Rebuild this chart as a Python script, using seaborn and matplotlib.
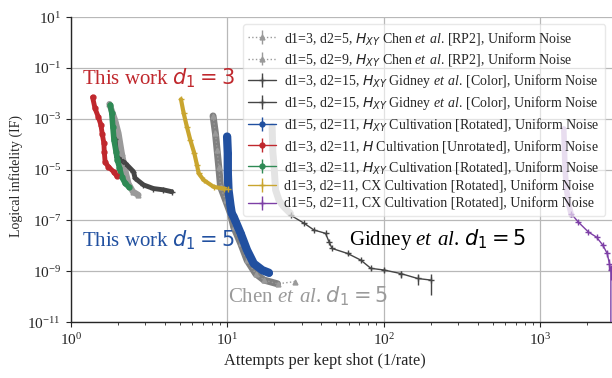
import numpy as np
import pandas as pd
import matplotlib
matplotlib.use("Agg")
import matplotlib.pyplot as plt
import seaborn as sns

# ---- data: attempts per kept shot (x) vs logical infidelity (y) ----
chen3_x = [1.77, 1.92, 2.02, 2.12, 2.23, 2.34, 2.50, 2.71]
chen3_y = [3.8e-3, 8.9e-4, 2.7e-4, 4.4e-5, 9.5e-6, 2.8e-6, 1.35e-6, 1.0e-6]

chen5_x = [8.13, 8.42, 8.63, 8.84, 9.08, 9.77, 10.5, 11.0, 12.2, 13.4, 15.2, 17.2, 21.0, 27.0]
chen5_y = [1.3e-3, 2.7e-4, 5.9e-5, 1.3e-5, 2.1e-6, 6.3e-7, 1.9e-7, 5.6e-8,
           1.26e-8, 2.75e-9, 8.1e-10, 4.5e-10, 3.2e-10, 3.9e-10]

gid3_x = [1.92, 1.97, 2.23, 2.52, 2.58, 2.92, 3.38, 3.92, 4.43]
gid3_y = [1.6e-4, 3.2e-5, 1.8e-5, 8.3e-6, 4.6e-6, 2.5e-6, 1.8e-6, 1.6e-6, 1.35e-6]

# dense head of the d1=5 colour-code run, then the sparse tail
gid5_head_x = [19.4, 19.6, 19.9, 20.4, 21.5, 23.0, 25.4]
gid5_head_y = [4.9e-4, 5.0e-5, 1.8e-5, 1.6e-6, 6.0e-7, 3.5e-7, 1.9e-7]
gid5_x = [25.5, 31.0, 35.9, 42.6, 44.8, 46.9, 58.9, 71.5, 83.0, 100.6, 129.0, 165.0, 200.0]
gid5_y = [1.6e-7, 7.8e-8, 4.2e-8, 3.1e-8, 1.45e-8, 7.9e-9, 5.0e-9, 2.75e-9,
          1.3e-9, 1.12e-9, 8.1e-10, 5.2e-10, 4.5e-10]
gid5_err = [0.05, 0.05, 0.06, 0.06, 0.08, 0.08, 0.10, 0.12, 0.15, 0.18, 0.30, 0.45, 0.75]

blue5_x = [10.0, 10.1, 10.1, 10.2, 10.5, 10.7, 11.0, 12.2, 13.4, 14.8, 16.8, 18.5]
blue5_y = [2.0e-4, 4.4e-5, 7.1e-6, 1.6e-6, 4.0e-7, 1.9e-7, 1.4e-7, 3.1e-8,
           6.8e-9, 2.0e-9, 1.1e-9, 8.7e-10]

red3_x = [1.38, 1.43, 1.50, 1.56, 1.59, 1.63, 1.64, 1.66, 1.74, 1.88, 1.97]
red3_y = [7.1e-3, 2.6e-3, 1.2e-3, 5.8e-4, 2.6e-4, 1.1e-4, 5.0e-5, 2.0e-5,
          1.3e-5, 8.3e-6, 5.6e-6]

green3_x = [1.79, 1.83, 1.86, 1.89, 1.95, 1.99, 2.05, 2.12, 2.23, 2.37]
green3_y = [3.5e-3, 1.7e-3, 4.9e-4, 1.5e-4, 5.0e-5, 2.4e-5, 1.2e-5, 5.2e-6, 2.9e-6, 2.0e-6]

cx3_x = [5.07, 5.27, 5.53, 5.81, 6.17, 6.42, 6.58, 7.07, 8.20, 9.50, 10.2]
cx3_y = [5.9e-3, 1.7e-3, 4.9e-4, 1.5e-4, 4.4e-5, 1.5e-5, 7.1e-6, 3.9e-6,
         2.1e-6, 1.8e-6, 1.66e-6]

cx5_head_x = [1420, 1430, 1440, 1455, 1480, 1530, 1590]
cx5_head_y = [4.0e-4, 1.0e-4, 2.5e-5, 6.3e-6, 1.6e-6, 4.0e-7, 1.6e-7]
# the last sample has zero observed failures, so it sits below the axis
cx5_x = [1590, 1755, 2040, 2300, 2520, 2690, 2780, 2840, 2840]
cx5_y = [1.8e-7, 8.7e-8, 3.5e-8, 2.2e-8, 1.07e-8, 5.0e-9, 2.0e-9, 1.12e-9, 1e-13]
cx5_err = [0.05, 0.08, 0.10, 0.12, 0.15, 0.25, 0.45, 0.6, 0.0]

labels = [
    r"d1=3, d2=5, $H_{XY}$ Chen $\mathsf{et\ al}$. [RP2], Uniform Noise",
    r"d1=5, d2=9, $H_{XY}$ Chen $\mathsf{et\ al}$. [RP2], Uniform Noise",
    r"d1=3, d2=15, $H_{XY}$ Gidney $\mathsf{et\ al}$. [Color], Uniform Noise",
    r"d1=5, d2=15, $H_{XY}$ Gidney $\mathsf{et\ al}$. [Color], Uniform Noise",
    r"d1=5, d2=11, $H_{XY}$ Cultivation [Rotated], Uniform Noise",
    r"d1=3, d2=11, $H$ Cultivation [Unrotated], Uniform Noise",
    r"d1=3, d2=11, $H_{XY}$ Cultivation [Rotated], Uniform Noise",
    r"d1=3, d2=11, CX Cultivation [Rotated], Uniform Noise",
    r"d1=5, d2=11, CX Cultivation [Rotated], Uniform Noise",
]
y_ticks = [1e1, 1e-1, 1e-3, 1e-5, 1e-7, 1e-9, 1e-11]

# ---- style ----
sns.set_theme(style="whitegrid", rc={
    "axes.edgecolor": "0.15",
    "axes.linewidth": 1.0,
    "grid.color": "0.72",
    "grid.linewidth": 0.9,
    "xtick.bottom": True,
    "ytick.left": True,
    "xtick.color": "0.15",
    "ytick.color": "0.15",
})
plt.rcParams["font.family"] = ["Liberation Serif", "DejaVu Sans"]
plt.rcParams["mathtext.fontset"] = "custom"
plt.rcParams["mathtext.rm"] = "DejaVu Sans"
plt.rcParams["mathtext.it"] = "DejaVu Sans:italic"
plt.rcParams["mathtext.bf"] = "DejaVu Sans:bold"
plt.rcParams["mathtext.sf"] = "Liberation Serif:italic"

C_CHEN = "#9a9a9a"
C_GID = "#454545"
C_BLUE = "#2150a0"
C_RED = "#c0282d"
C_GREEN = "#2f8a55"
C_GOLD = "#c9a52e"
C_PURPLE = "#7d3fa6"

fig = plt.figure(figsize=(6.12, 3.78), dpi=100)
ax = fig.add_axes([0.1155, 0.148, 0.885, 0.8065])


def band(x, y, color, lw, alpha=1.0, z=2):
    df = pd.DataFrame({"x": x, "y": y})
    sns.lineplot(data=df, x="x", y="y", sort=False, estimator=None, color=color,
                 lw=lw, alpha=alpha, ax=ax, zorder=z, legend=False)


def rel(y, e):
    y = np.asarray(y)
    return np.vstack([y * np.asarray(e), y * np.asarray(e)])


# thick bands for the densely sampled parts
band(chen3_x, chen3_y, C_CHEN, 4.5)
band(chen5_x[:-1], chen5_y[:-1], "#808080", 5)
band(gid5_head_x, gid5_head_y, "#bdbdbd", 5)
band(cx5_head_x, cx5_head_y, "#c6acd9", 4)
band(gid3_x, gid3_y, C_GID, 3.5)
band(blue5_x, blue5_y, C_BLUE, 6, z=3)
band(red3_x, red3_y, C_RED, 3.5, z=3)
band(green3_x, green3_y, C_GREEN, 4, z=3)
band(cx3_x, cx3_y, C_GOLD, 3, z=3)

h = []
h.append(ax.errorbar(chen3_x, chen3_y, yerr=rel(chen3_y, [0.05] * len(chen3_y)), fmt="^",
                     ls=":", lw=1, ms=3.5, color=C_CHEN, label=labels[0], zorder=2))
h.append(ax.errorbar(chen5_x, chen5_y, yerr=rel(chen5_y, [0.05] * len(chen5_y)), fmt="^",
                     ls=":", lw=1, ms=3.5, color=C_CHEN, label=labels[1], zorder=2))
h.append(ax.errorbar(gid3_x, gid3_y, yerr=rel(gid3_y, [0.05] * len(gid3_y)), fmt="+",
                     ls="-", lw=1, ms=4, color=C_GID, label=labels[2], zorder=2))
h.append(ax.errorbar(gid5_x, gid5_y, yerr=rel(gid5_y, gid5_err), fmt="+",
                     ls="-", lw=1, ms=4, color=C_GID, label=labels[3], zorder=2))
h.append(ax.errorbar(blue5_x, blue5_y, yerr=rel(blue5_y, [0.05] * len(blue5_y)), fmt="o",
                     ls="-", lw=1, ms=3.5, color=C_BLUE, label=labels[4], zorder=3))
h.append(ax.errorbar(red3_x, red3_y, yerr=rel(red3_y, [0.05] * len(red3_y)), fmt="o",
                     ls="-", lw=1, ms=3.5, color=C_RED, label=labels[5], zorder=3))
h.append(ax.errorbar(green3_x, green3_y, yerr=rel(green3_y, [0.05] * len(green3_y)), fmt="o",
                     ls="-", lw=1, ms=3.5, color=C_GREEN, label=labels[6], zorder=3))
h.append(ax.errorbar(cx3_x, cx3_y, yerr=rel(cx3_y, [0.05] * len(cx3_y)), fmt="+",
                     ls="-", lw=1, ms=4, color=C_GOLD, label=labels[7], zorder=3))
h.append(ax.errorbar(cx5_x, cx5_y, yerr=rel(cx5_y, cx5_err), fmt="+",
                     ls="-", lw=1, ms=4, color=C_PURPLE, label=labels[8], zorder=3))

ax.set_xscale("log")
ax.set_yscale("log")
ax.set_xlim(1, 2900)
ax.set_ylim(1e-11, 1e1)
ax.set_yticks(y_ticks)
ax.yaxis.set_minor_locator(matplotlib.ticker.NullLocator())
ax.xaxis.set_minor_locator(matplotlib.ticker.LogLocator(base=10, subs=np.arange(2, 10)))
ax.xaxis.set_minor_formatter(matplotlib.ticker.NullFormatter())
ax.tick_params(axis="both", which="major", labelsize=11, length=3.5, width=0.8)
ax.tick_params(axis="x", which="minor", length=2, width=0.6)
ax.grid(True, which="major")
ax.grid(False, which="minor")
for s in ["top", "right"]:
    ax.spines[s].set_visible(False)

ax.set_xlabel("Attempts per kept shot (1/rate)", fontsize=11.8)
ax.xaxis.set_label_coords(0.47, -0.1)
ax.set_ylabel("Logical infidelity (IF)", fontsize=10)
ax.yaxis.set_label_coords(-0.088, 0.48)

ax.text(1.18, 10 ** -1.39, r"This work $d_1 = 3$", color=C_RED, fontsize=15, va="center")
ax.text(1.18, 10 ** -7.77, r"This work $d_1 = 5$", color=C_BLUE, fontsize=15, va="center")
ax.text(60, 10 ** -7.77, r"Gidney $\mathsf{et\ al}$. $d_1 = 5$", color="black", fontsize=15, va="center")
ax.text(10.2, 10 ** -9.98, r"Chen $\mathsf{et\ al}$. $d_1 = 5$", color=C_CHEN, fontsize=15, va="center")

leg = ax.legend(handles=h, loc="upper right", fontsize=10, frameon=True, framealpha=0.6,
                edgecolor="0.85", fancybox=True, borderaxespad=0.5, labelspacing=0.3,
                handletextpad=0.6)
leg.set_zorder(5)

fig.savefig("out.png", dpi=100)
